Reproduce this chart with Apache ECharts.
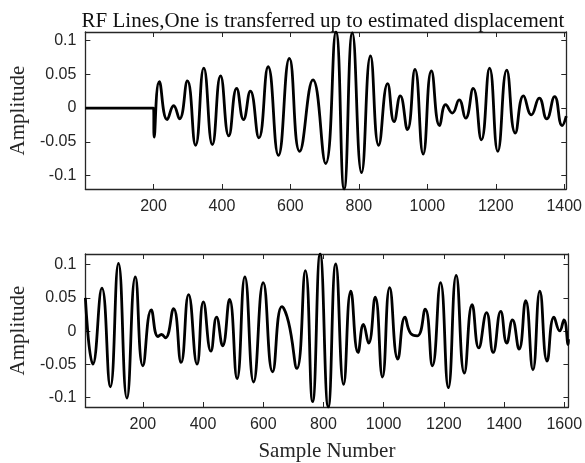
<!DOCTYPE html>
<html>
<head>
<meta charset="utf-8">
<script src="https://cdn.jsdelivr.net/npm/echarts@6/dist/echarts.min.js"></script>
<style>html,body{margin:0;padding:0;background:#fff}#c{width:585px;height:463px}</style>
</head>
<body>
<div id="c"></div>
<script>
// ---- data ----
var titleText = 'RF Lines,One is transferred up to estimated displacement';
var yName = 'Amplitude';
var xName = 'Sample Number';
var xTicksTop = [200, 400, 600, 800, 1000, 1200, 1400];
var xTicksBottom = [200, 400, 600, 800, 1000, 1200, 1400, 1600];
var yTicks = [-0.1, -0.05, 0, 0.05, 0.1];

var topX = [1, 200, 202, 217, 240, 259, 276, 299, 323, 347, 372, 396, 420, 443, 463, 483, 508, 535, 565, 597, 627, 666, 703, 733, 757, 781, 808, 834, 858, 884, 903, 921, 942, 964, 988, 1012, 1036, 1054, 1073, 1093, 1112, 1134, 1158, 1182, 1206, 1232, 1257, 1281, 1304, 1327, 1349, 1372, 1394, 1406];
var topY = [0, 0, -0.043, 0.039, -0.017, 0.0034, -0.016, 0.040, -0.055, 0.059, -0.054, 0.0475, -0.041, 0.029, -0.017, 0.025, -0.044, 0.061, -0.070, 0.0735, -0.064, 0.0416, -0.082, 0.1124, -0.1197, 0.111, -0.0956, 0.077, -0.055, 0.036, -0.020, 0.018, -0.032, 0.057, -0.068, 0.055, -0.026, 0.005, -0.0074, 0.012, -0.015, 0.029, -0.047, 0.059, -0.064, 0.056, -0.037, 0.018, -0.010, 0.0147, -0.016, 0.017, -0.026, -0.012];

var botX = [9, 34, 64, 92, 119, 147, 175, 200, 228, 250, 262, 275, 302, 327, 352, 380, 401, 426, 445, 465, 488, 513, 539, 568, 600, 631, 662, 684, 712, 740, 764, 789, 816, 841, 867, 891, 915, 933, 950, 972, 996, 1020, 1047, 1071, 1090, 1112, 1138, 1162, 1189, 1215, 1241, 1268, 1294, 1316, 1342, 1364, 1389, 1409, 1428, 1450, 1472, 1496, 1519, 1543, 1566, 1585, 1599, 1613, 1614];
var botY = [0.050, -0.0496, 0.0646, -0.0836, 0.102, -0.1006, 0.0816, -0.052, 0.032, -0.008, -0.005, -0.010, 0.034, -0.047, 0.055, -0.0496, 0.044, -0.030, 0.021, -0.022, 0.0476, -0.0714, 0.0816, -0.0764, 0.073, -0.061, 0.037, 0.0135, -0.056, 0.091, -0.106, 0.116, -0.114, 0.101, -0.080, 0.060, -0.032, 0.010, -0.018, 0.051, -0.069, 0.0656, -0.042, 0.021, -0.0035, -0.007, 0.033, -0.052, 0.073, -0.085, 0.084, -0.063, 0.040, -0.025, 0.028, -0.032, 0.0296, -0.018, 0.017, -0.027, 0.046, -0.058, 0.060, -0.045, 0.021, 0.0004, 0.017, -0.020, -0.012];

function pairs(xs, ys) { return xs.map(function (x, i) { return [x, ys[i]]; }); }

var AX = '#262626';
var tickFont = { fontFamily: 'Liberation Sans', fontSize: 16, color: AX };
var serif = 'Liberation Serif';

function xAx(grid, min, max, ticks, pos, showLabels, name) {
  return {
    type: 'value', gridIndex: grid, min: min, max: max, position: pos,
    name: name || '', nameLocation: 'middle', nameGap: 34,
    nameTextStyle: { fontFamily: serif, fontSize: 21, color: AX },
    axisLine: { show: true, onZero: false, lineStyle: { color: AX, width: 1.3 } },
    axisTick: { show: true, inside: true, length: 5, customValues: ticks, lineStyle: { color: AX, width: 1 } },
    axisLabel: Object.assign({ show: showLabels, margin: 10, customValues: ticks,
      formatter: function (v) { return String(v); } }, tickFont),
    splitLine: { show: false }
  };
}
function yAx(grid, min, max, pos, showLabels, name) {
  return {
    type: 'value', gridIndex: grid, min: min, max: max, position: pos,
    name: name || '', nameLocation: 'middle', nameGap: 46, nameRotate: 90,
    nameTextStyle: { fontFamily: serif, fontSize: 21, color: AX },
    axisLine: { show: true, onZero: false, lineStyle: { color: AX, width: 1.3 } },
    axisTick: { show: true, inside: true, length: 5, customValues: yTicks, lineStyle: { color: AX, width: 1 } },
    axisLabel: Object.assign({ show: showLabels, margin: 9, customValues: yTicks,
      formatter: function (v) { return String(Math.round(v * 100) / 100); } }, tickFont),
    splitLine: { show: false }
  };
}

var chart = echarts.init(document.getElementById('c'), null, { renderer: 'canvas' });
chart.setOption({
  animation: false,
  backgroundColor: '#fff',
  title: {
    text: titleText, left: 318, top: 6, textAlign: 'center',
    textStyle: { fontFamily: serif, fontSize: 21, fontWeight: 'normal', color: '#111' }
  },
  grid: [
    { left: 82, right: 16, top: 32, height: 157, containLabel: false },
    { left: 82, right: 16, top: 254, height: 158, containLabel: false }
  ],
  xAxis: [
    xAx(0, 1, 1406, xTicksTop, 'bottom', true),
    xAx(0, 1, 1406, xTicksTop, 'top', false),
    xAx(1, 9, 1614, xTicksBottom, 'bottom', true, xName),
    xAx(1, 9, 1614, xTicksBottom, 'top', false)
  ],
  yAxis: [
    yAx(0, -0.1197, 0.1124, 'left', true, yName),
    yAx(0, -0.1197, 0.1124, 'right', false),
    yAx(1, -0.114, 0.116, 'left', true, yName),
    yAx(1, -0.114, 0.116, 'right', false)
  ],
  series: [
    { type: 'line', xAxisIndex: 0, yAxisIndex: 0, data: pairs(topX, topY), smooth: 0.5,
      showSymbol: false, lineStyle: { color: '#000', width: 2.8 }, clip: true },
    { type: 'line', xAxisIndex: 2, yAxisIndex: 2, data: pairs(botX, botY), smooth: 0.5,
      showSymbol: false, lineStyle: { color: '#000', width: 2.8 }, clip: true }
  ]
});
</script>
</body>
</html>
